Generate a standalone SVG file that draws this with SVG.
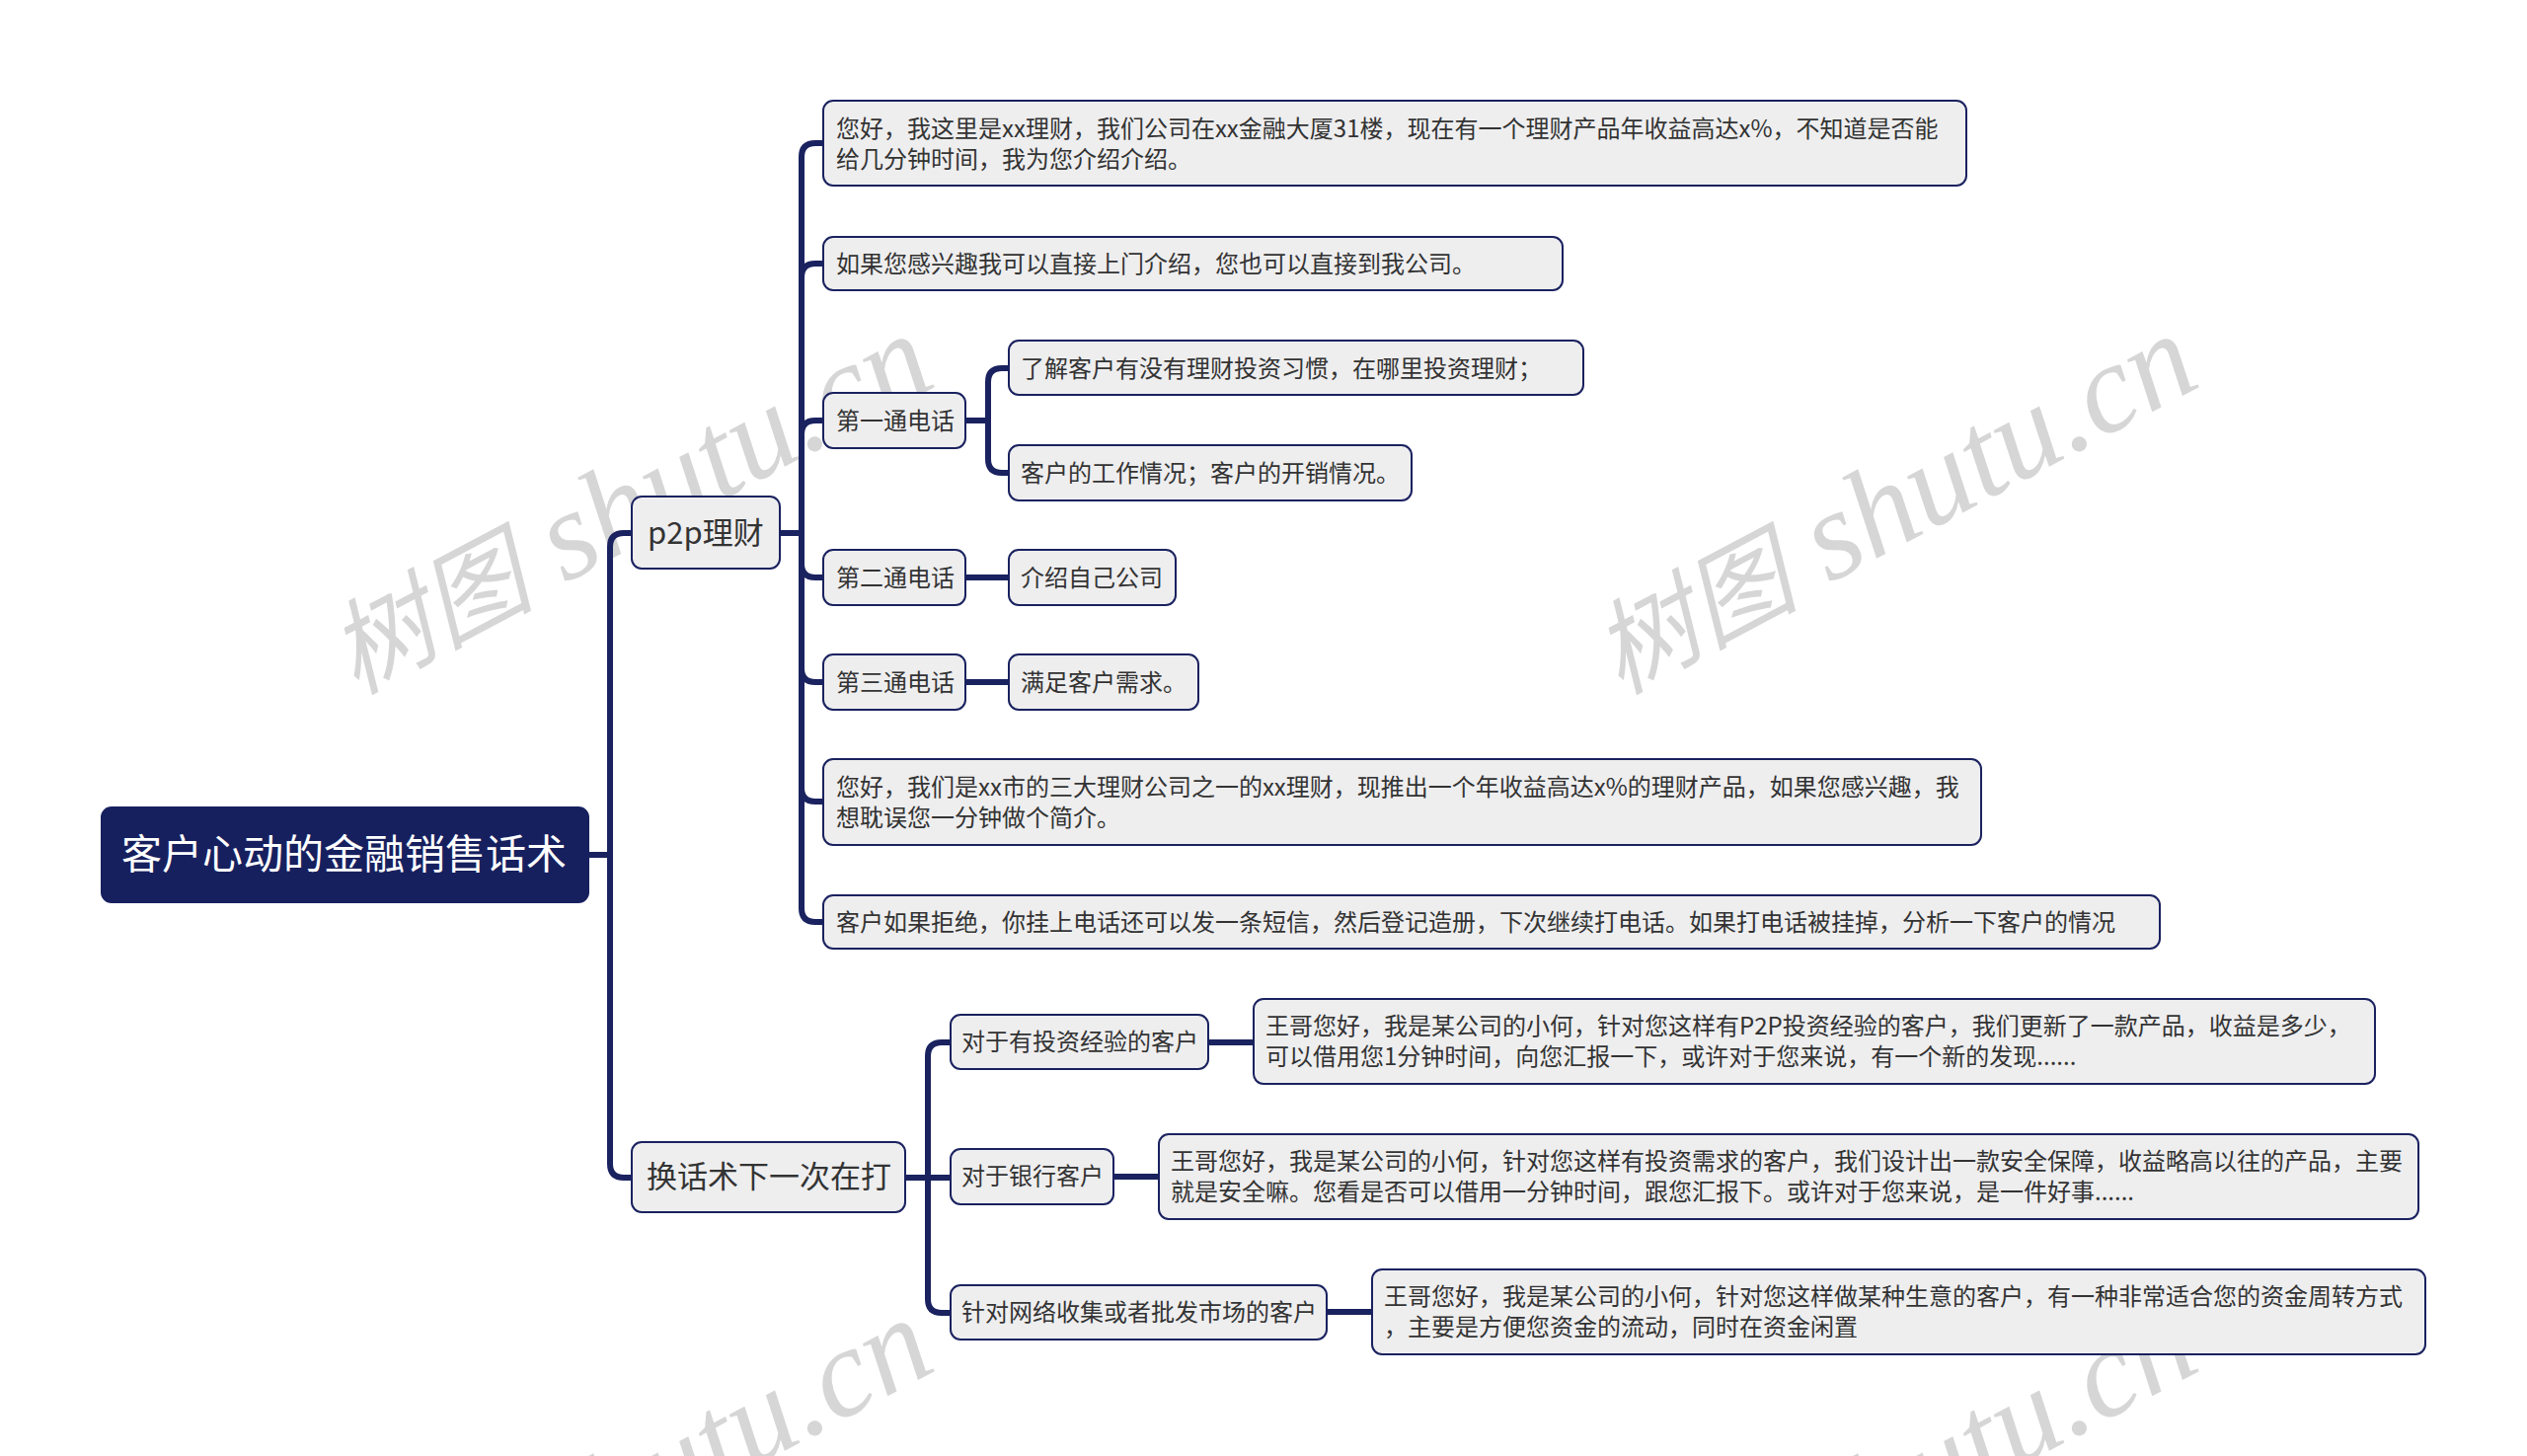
<svg xmlns="http://www.w3.org/2000/svg" width="2560" height="1475" viewBox="0 0 2560 1475">
<defs>
<style>
text{font-family:"Noto Sans CJK SC","Noto Sans",sans-serif}
.b{fill:#eeeeef;stroke:#1a225f;stroke-width:2}
.t{font-size:24px;fill:#333}
.m{font-size:31px;fill:#333}
.r{font-size:41px;fill:#fff}
.c{fill:none;stroke:#1a225f;stroke-width:6}
.w{font-size:128px;fill:#d6d6d6;font-style:italic;font-family:"Liberation Serif","Noto Sans CJK SC",serif}
.wc{font-size:104px}
</style>
<g id="wm"><text class="w"><tspan class="wc">树图</tspan> shutu.cn</text></g>
</defs>
<g id="watermarks">
<use href="#wm" transform="translate(360,704) rotate(-28)"/>
<use href="#wm" transform="translate(1641,704) rotate(-28)"/>
<use href="#wm" transform="translate(360,1701) rotate(-28)"/>
<use href="#wm" transform="translate(1641,1701) rotate(-28)"/>
</g>
<g id="connectors">
<path class="c" d="M596 866H618M640 540H632Q618 540 618 554V1179Q618 1193 632 1193H640"/>
<path class="c" d="M790 540H812M834 145H826Q812 145 812 159V920Q812 934 826 934H834M812 281Q812 267 826 267H834M812 440Q812 426 826 426H834M812 571Q812 585 826 585H834M812 677Q812 691 826 691H834M812 798Q812 812 826 812H834"/>
<path class="c" d="M978 426H1001M1022 373H1015Q1001 373 1001 387V465Q1001 479 1015 479H1022"/>
<path class="c" d="M978 585H1022M978 691H1022"/>
<path class="c" d="M916 1193H963M963 1056H954Q940 1056 940 1070V1316Q940 1330 954 1330H963"/>
<path class="c" d="M1224 1056H1270M1127 1192H1174M1344 1329H1390"/>
</g>
<g id="root"><rect x="103" y="818" width="493" height="96" rx="10" fill="#17205f" stroke="#17205f" stroke-width="2"/><text class="r" x="123" y="880">客户心动的金融销售话术</text></g>
<g id="n-p2p"><rect class="b" x="640" y="503" width="150" height="73" rx="10"/><text class="m" x="656" y="551">p2p理财</text></g>
<g id="n-huan"><rect class="b" x="640" y="1157" width="277" height="71" rx="10"/><text class="m" x="655" y="1203">换话术下一次在打</text></g>
<g id="n1"><rect class="b" x="834" y="102" width="1158" height="86" rx="10"/><text class="t" x="847" y="139">您好，我这里是xx理财，我们公司在xx金融大厦31楼，现在有一个理财产品年收益高达x%，不知道是否能</text><text class="t" x="847" y="170">给几分钟时间，我为您介绍介绍。</text></g>
<g id="n2"><rect class="b" x="834" y="240" width="749" height="54" rx="10"/><text class="t" x="847" y="276">如果您感兴趣我可以直接上门介绍，您也可以直接到我公司。</text></g>
<g id="n3"><rect class="b" x="834" y="398" width="144" height="56" rx="10"/><text class="t" x="847" y="435">第一通电话</text></g>
<g id="n31"><rect class="b" x="1022" y="345" width="582" height="55" rx="10"/><text class="t" x="1034" y="382">了解客户有没有理财投资习惯，在哪里投资理财；</text></g>
<g id="n32"><rect class="b" x="1022" y="451" width="408" height="56" rx="10"/><text class="t" x="1034" y="488">客户的工作情况；客户的开销情况。</text></g>
<g id="n4"><rect class="b" x="834" y="557" width="144" height="56" rx="10"/><text class="t" x="847" y="594">第二通电话</text></g>
<g id="n41"><rect class="b" x="1022" y="557" width="169" height="56" rx="10"/><text class="t" x="1034" y="594">介绍自己公司</text></g>
<g id="n5"><rect class="b" x="834" y="663" width="144" height="56" rx="10"/><text class="t" x="847" y="700">第三通电话</text></g>
<g id="n51"><rect class="b" x="1022" y="663" width="192" height="56" rx="10"/><text class="t" x="1034" y="700">满足客户需求。</text></g>
<g id="n6"><rect class="b" x="834" y="769" width="1173" height="87" rx="10"/><text class="t" x="847" y="806">您好，我们是xx市的三大理财公司之一的xx理财，现推出一个年收益高达x%的理财产品，如果您感兴趣，我</text><text class="t" x="847" y="837">想耽误您一分钟做个简介。</text></g>
<g id="n7"><rect class="b" x="834" y="907" width="1354" height="54" rx="10"/><text class="t" x="847" y="943">客户如果拒绝，你挂上电话还可以发一条短信，然后登记造册，下次继续打电话。如果打电话被挂掉，分析一下客户的情况</text></g>
<g id="m1"><rect class="b" x="963" y="1028" width="261" height="55" rx="10"/><text class="t" x="974" y="1064">对于有投资经验的客户</text></g>
<g id="m11"><rect class="b" x="1270" y="1012" width="1136" height="86" rx="10"/><text class="t" x="1282" y="1048">王哥您好，我是某公司的小何，针对您这样有P2P投资经验的客户，我们更新了一款产品，收益是多少，</text><text class="t" x="1282" y="1079">可以借用您1分钟时间，向您汇报一下，或许对于您来说，有一个新的发现......</text></g>
<g id="m2"><rect class="b" x="963" y="1164" width="165" height="56" rx="10"/><text class="t" x="974" y="1200">对于银行客户</text></g>
<g id="m21"><rect class="b" x="1174" y="1149" width="1276" height="86" rx="10"/><text class="t" x="1186" y="1185">王哥您好，我是某公司的小何，针对您这样有投资需求的客户，我们设计出一款安全保障，收益略高以往的产品，主要</text><text class="t" x="1186" y="1216">就是安全嘛。您看是否可以借用一分钟时间，跟您汇报下。或许对于您来说，是一件好事......</text></g>
<g id="m3"><rect class="b" x="963" y="1302" width="381" height="55" rx="10"/><text class="t" x="974" y="1338">针对网络收集或者批发市场的客户</text></g>
<g id="m31"><rect class="b" x="1390" y="1286" width="1067" height="86" rx="10"/><text class="t" x="1402" y="1322">王哥您好，我是某公司的小何，针对您这样做某种生意的客户，有一种非常适合您的资金周转方式</text><text class="t" x="1402" y="1353">，主要是方便您资金的流动，同时在资金闲置</text></g>
</svg>
